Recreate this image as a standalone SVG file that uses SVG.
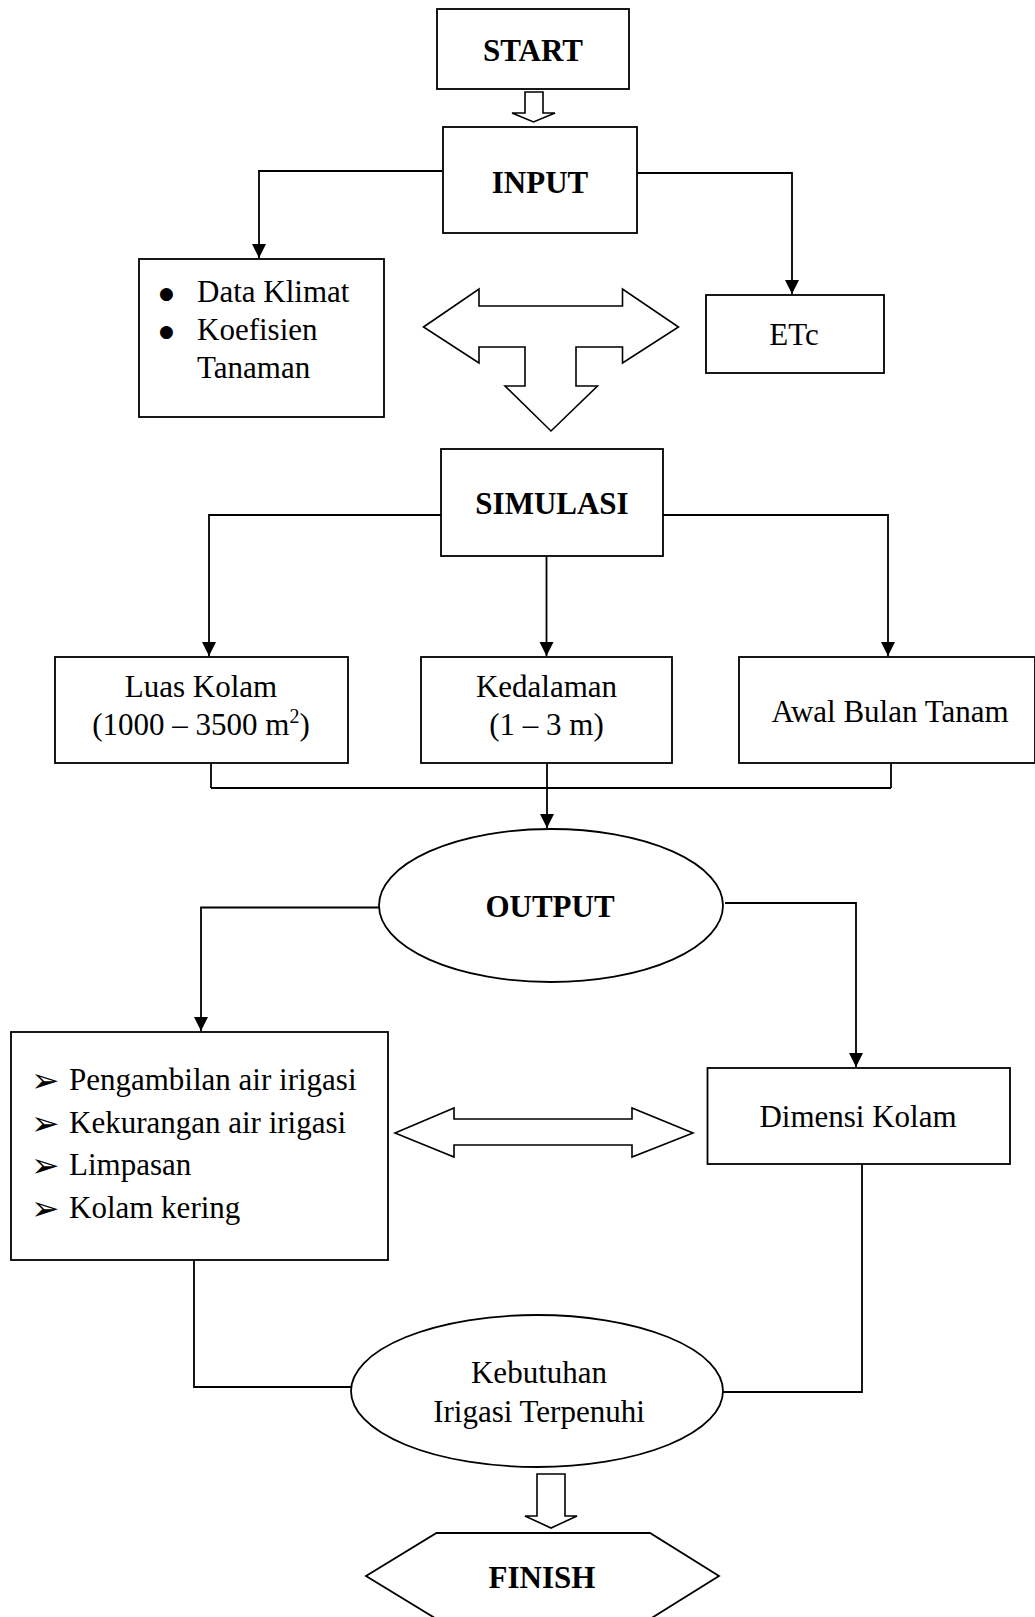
<svg xmlns="http://www.w3.org/2000/svg" width="1035" height="1617" viewBox="0 0 1035 1617">
<defs>
<marker id="ah" markerUnits="userSpaceOnUse" markerWidth="16" markerHeight="16" refX="14" refY="7" orient="auto">
<path d="M0,0 L14,7 L0,14 Z" fill="#000"/>
</marker>
<style>
.box{fill:#fff;stroke:#000;stroke-width:1.8}
.ln{fill:none;stroke:#000;stroke-width:1.8}
.arr{fill:none;stroke:#000;stroke-width:1.8;marker-end:url(#ah)}
.hol{fill:#fff;stroke:#000;stroke-width:1.6;stroke-linejoin:miter}
.t{font-family:"Liberation Serif","Times New Roman",serif;font-size:31px;fill:#000}
.b{font-weight:bold}
.c{text-anchor:middle}
.sym{font-family:"DejaVu Sans",sans-serif;font-size:34px;fill:#000}
.dot{font-family:"DejaVu Sans",sans-serif;font-size:17px;fill:#000}
</style>
</defs>
<rect width="1035" height="1617" fill="#fff"/>

<g id="connectors">
<polyline class="arr" points="442,171 259,171 259,258"/>
<polyline class="arr" points="637,173 792,173 792,294"/>
<polyline class="arr" points="441,515 209,515 209,656"/>
<line class="arr" x1="546.5" y1="556" x2="546.5" y2="656"/>
<polyline class="arr" points="663,515 888,515 888,656"/>
<line class="ln" x1="211" y1="763" x2="211" y2="788"/>
<line class="ln" x1="891" y1="763" x2="891" y2="788"/>
<line class="ln" x1="211" y1="788" x2="891" y2="788"/>
<line class="arr" x1="547" y1="763" x2="547" y2="828"/>
<polyline class="arr" points="379,907.5 201,907.5 201,1031"/>
<polyline class="arr" points="725,903 856,903 856,1067"/>
<polyline class="ln" points="194,1260 194,1387 351,1387"/>
<polyline class="ln" points="862,1164 862,1392 723,1392"/>
<polygon class="hol" points="525,92 543,92 543,113 555,113 533.5,122 512,113 525,113"/>
<polygon class="hol" points="423.5,327 479,289 479,306 622.5,306 622.5,289 678.5,327 622.5,363 622.5,347 576,347 576,386 597.5,386 551,431 505,386 525,386 525,347 479,347 479,363"/>
<polygon class="hol" points="395,1133 454,1108 454,1119 632,1119 632,1108 693,1133 632,1157 632,1145 454,1145 454,1157"/>
<polygon class="hol" points="537,1474 565,1474 565,1516 577,1516 551,1528 525,1516 537,1516"/>
</g>

<g id="start">
<rect class="box" x="437" y="9" width="192" height="80"/>
<text class="t b c" x="533" y="61">START</text>
</g>

<g id="input">
<rect class="box" x="443" y="127" width="194" height="106"/>
<text class="t b c" x="540" y="193">INPUT</text>
</g>

<g id="data-klimat">
<rect class="box" x="139" y="259" width="245" height="158"/>
<text class="dot" x="159" y="299">●</text>
<text class="t" x="197" y="302">Data Klimat</text>
<text class="dot" x="159" y="337">●</text>
<text class="t" x="197" y="340">Koefisien</text>
<text class="t" x="197" y="378">Tanaman</text>
</g>

<g id="etc">
<rect class="box" x="706" y="295" width="178" height="78"/>
<text class="t c" x="794" y="345">ETc</text>
</g>

<g id="simulasi">
<rect class="box" x="441" y="449" width="222" height="107"/>
<text class="t b c" x="552" y="514">SIMULASI</text>
</g>

<g id="luas-kolam">
<rect class="box" x="55" y="657" width="293" height="106"/>
<text class="t c" x="201" y="697">Luas Kolam</text>
<text class="t c" x="201" y="735">(1000 – 3500 m<tspan font-size="20" dy="-12">2</tspan><tspan dy="12">)</tspan></text>
</g>

<g id="kedalaman">
<rect class="box" x="421" y="657" width="251" height="106"/>
<text class="t c" x="546.5" y="697">Kedalaman</text>
<text class="t c" x="546.5" y="735">(1 – 3 m)</text>
</g>

<g id="awal-bulan-tanam">
<rect class="box" x="739" y="657" width="296" height="106"/>
<text class="t c" x="890" y="722">Awal Bulan Tanam</text>
</g>

<g id="output">
<ellipse class="box" cx="551" cy="905.5" rx="172" ry="76.5"/>
<text class="t b c" x="550" y="917">OUTPUT</text>
</g>

<g id="hasil">
<rect class="box" x="11" y="1032" width="377" height="228"/>
<text class="sym" x="31" y="1092">➢</text>
<text class="t" x="69" y="1090">Pengambilan air irigasi</text>
<text class="sym" x="31" y="1135">➢</text>
<text class="t" x="69" y="1133">Kekurangan air irigasi</text>
<text class="sym" x="31" y="1177">➢</text>
<text class="t" x="69" y="1175">Limpasan</text>
<text class="sym" x="31" y="1220">➢</text>
<text class="t" x="69" y="1218">Kolam kering</text>
</g>

<g id="dimensi-kolam">
<rect class="box" x="707.5" y="1068" width="302.5" height="96"/>
<text class="t c" x="858" y="1127">Dimensi Kolam</text>
</g>

<g id="kebutuhan">
<ellipse class="box" cx="537" cy="1391" rx="186" ry="76"/>
<text class="t c" x="539" y="1383">Kebutuhan</text>
<text class="t c" x="539" y="1422">Irigasi Terpenuhi</text>
</g>

<g id="finish">
<polygon class="box" points="366,1576 436.5,1533 650,1533 719,1576 650,1619 436.5,1619"/>
<text class="t b c" x="542" y="1588">FINISH</text>
</g>
</svg>
